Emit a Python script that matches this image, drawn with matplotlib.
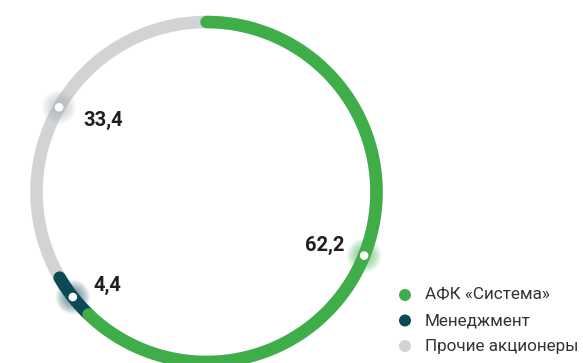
import matplotlib
matplotlib.use('Agg')
import matplotlib.pyplot as plt
import numpy as np

# shareholder structure, %
labels = ['АФК «Система»', 'Менеджмент', 'Прочие акционеры']
shares = [62.2, 4.4, 33.4]
value_text = ['62,2', '4,4', '33,4']
colors = ['#3fae49', '#0b4a55', '#d1d3d4']

plt.rcParams['font.family'] = ['Roboto', 'DejaVu Sans']

fig = plt.figure(figsize=(5.83, 3.63), dpi=100)
ax = fig.add_axes([0, 0, 1, 1])
ax.set_xlim(0, 583)
ax.set_ylim(363, 0)
ax.set_aspect('equal')
ax.axis('off')

cx, cy, r = 206.5, 192, 170
lw = 12.5 * 0.72


def point(frac):
    # clockwise from 12 o'clock
    a = 2 * np.pi * frac
    return cx + r * np.sin(a), cy - r * np.cos(a)


def arc(f0, f1, color, cap, z):
    t = np.linspace(f0, f1, 400)
    x, y = point(t)
    ax.plot(x, y, color=color, lw=lw, solid_capstyle=cap, zorder=z, clip_on=False)


total = sum(shares)
bounds = np.cumsum([0] + shares) / total

# grey base ring, then management, then Sistema on top
arc(0, 1, colors[2], 'butt', 1)
arc(bounds[1], bounds[2], colors[1], 'round', 2)
arc(bounds[0], bounds[1], colors[0], 'round', 3)

offsets = [(-20, -10), (21, -12), (24, 13)]
has = ['right', 'left', 'left']
glow = ['#3fae49', '#0b4a55', '#aeb3b5']
for i in range(3):
    mid = (bounds[i] + bounds[i + 1]) / 2
    px, py = point(mid)
    # soft glow around the marker
    for s in np.linspace(17, 6, 9):
        ax.add_patch(plt.Circle((px, py), s, color=glow[i], alpha=0.08, lw=0, zorder=4))
    ax.add_patch(plt.Circle((px, py), 3.6, color='white', zorder=6))
    dx, dy = offsets[i]
    ax.text(px + dx, py + dy, value_text[i], ha=has[i], va='center',
            fontsize=14.5, fontweight='bold', color='#231f20', zorder=7)

# legend
for i, lab in enumerate(labels):
    y = 295 + i * 25.5
    ax.add_patch(plt.Circle((405, y), 6, color=colors[i], lw=0))
    ax.text(425, y, lab, ha='left', va='center', fontsize=12.3, color='#333333')

fig.savefig('out.png', dpi=100)
